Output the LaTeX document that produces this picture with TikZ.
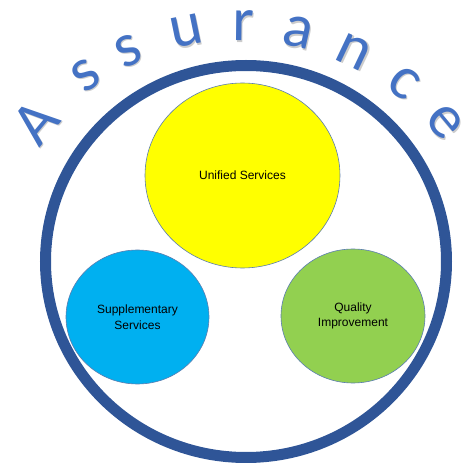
\documentclass[tikz,border=0pt]{standalone}
\usepackage{fontspec}
\setmainfont{Liberation Sans}
\newfontfamily\arcfont{Carlito}
\usetikzlibrary{shapes.geometric}
\definecolor{ringblue}{HTML}{2F5597}
\definecolor{letterblue}{HTML}{4472C4}
\definecolor{edgeblue}{HTML}{5B7DB0}
\definecolor{fillyellow}{HTML}{FFFF00}
\definecolor{fillcyan}{HTML}{00B0F0}
\definecolor{fillgreen}{HTML}{92D050}
\begin{document}
\begin{tikzpicture}[x=1pt,y=1pt,
  ringshape/.style={ellipse, draw=ringblue, line width=11pt, inner sep=0pt},
  bubble/.style={ellipse, draw=edgeblue, line width=0.6pt, inner sep=0pt, align=center,
    font=\fontsize{12}{15.5}\selectfont},
  letter/.style={text=letterblue, inner sep=0pt, font=\arcfont\fontsize{62}{62}\selectfont},
  shadowletter/.style={letter, text=black!20}]
\useasboundingbox (0,0) rectangle (462,464);
\node[ringshape, minimum width=401pt, minimum height=392pt] (ring) at (246,202.5) {};
\node[bubble, fill=fillyellow, minimum width=195pt, minimum height=185pt] (uni) at (242.5,288.5) {Unified Services};
\node[bubble, fill=fillcyan, minimum width=143pt, minimum height=134pt] (sup) at (137.5,147) {Supplementary\\Services};
\node[bubble, fill=fillgreen, minimum width=144pt, minimum height=134pt] (qi) at (353,148) {Quality\\Improvement};
\foreach \ch/\ang [count=\i] in {A/140.3, s/125.5, s/114.8, u/101.6, r/89.3, a/77.3, n/64.6, c/51.9, e/39.7}{
  \node[shadowletter, rotate=\ang-90] (S\i) at ([shift={(241.2,170.6)}]\ang:266) {\ch};
  \node[letter, rotate=\ang-90] (L\i) at ([shift={(240,172)}]\ang:266) {\ch};
}
\end{tikzpicture}
\end{document}
